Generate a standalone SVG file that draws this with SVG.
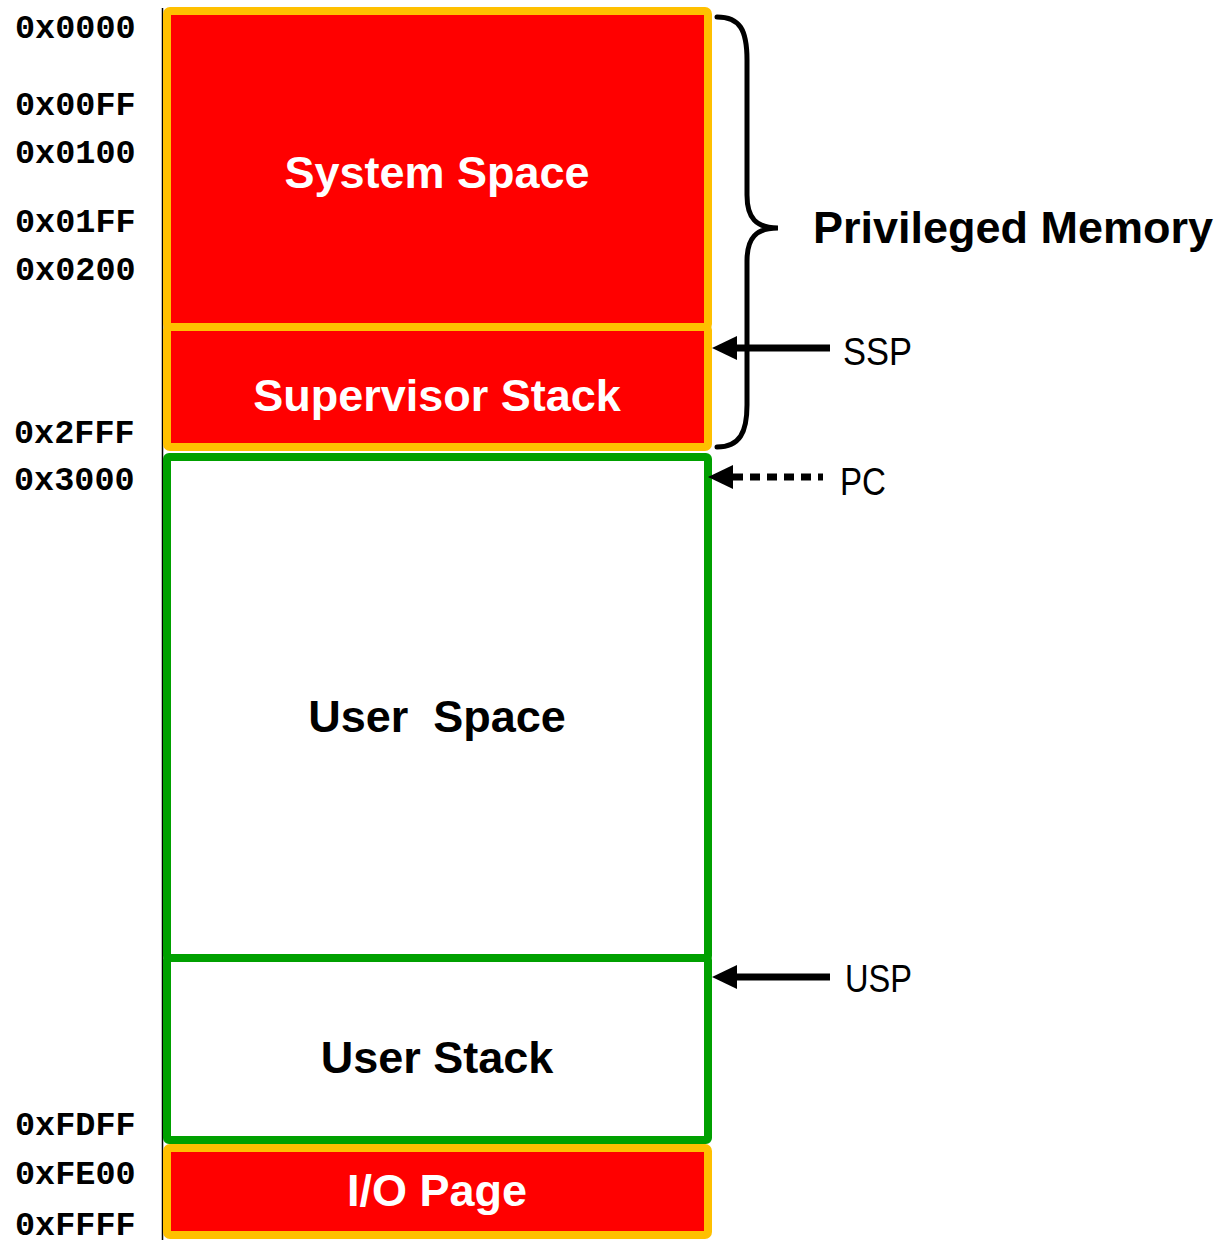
<svg xmlns="http://www.w3.org/2000/svg" width="1218" height="1240" viewBox="0 0 1218 1240">
  <style>
    .addr { font-family: "Liberation Mono", "Courier New", monospace; font-weight: bold; font-size: 33.5px; fill: #000; }
    .title { font-family: "Liberation Sans", Arial, sans-serif; font-weight: bold; font-size: 45px; text-anchor: middle; }
    .ptr { font-family: "Liberation Sans", Arial, sans-serif; font-size: 38px; fill: #000; }
    .priv { fill: #ff0000; stroke: #ffc000; stroke-width: 8; }
    .user { fill: #ffffff; stroke: #00a000; stroke-width: 8; }
    .arrow { stroke: #000; stroke-width: 7; fill: none; }
    .head { fill: #000; }
  </style>

  <rect width="1218" height="1240" fill="#ffffff"/>

  <!-- thin left edge line -->
  <line x1="162.5" y1="8" x2="162.5" y2="1240" stroke="#000" stroke-width="1.5"/>

  <!-- memory regions -->
  <g id="system-space">
    <rect class="priv" x="167" y="11" width="541" height="316" rx="3"/>
    <text class="title" x="437" y="188" fill="#ffffff">System Space</text>
  </g>
  <g id="supervisor-stack">
    <rect class="priv" x="167" y="327" width="541" height="120" rx="3"/>
    <text class="title" x="437" y="411" fill="#ffffff">Supervisor Stack</text>
  </g>
  <g id="user-space">
    <rect class="user" x="167" y="457" width="541" height="501" rx="2"/>
    <text class="title" x="437" y="732" fill="#000000" xml:space="preserve">User  Space</text>
  </g>
  <g id="user-stack">
    <rect class="user" x="167" y="958" width="541" height="182" rx="2"/>
    <text class="title" x="437" y="1073" fill="#000000">User Stack</text>
  </g>
  <g id="io-page">
    <rect class="priv" x="167" y="1148" width="541" height="87" rx="3"/>
    <text class="title" x="437" y="1206" fill="#ffffff">I/O Page</text>
  </g>

  <!-- address labels -->
  <g id="addresses">
    <text class="addr" x="15" y="38">0x0000</text>
    <text class="addr" x="15" y="115">0x00FF</text>
    <text class="addr" x="15" y="163">0x0100</text>
    <text class="addr" x="15" y="232">0x01FF</text>
    <text class="addr" x="15" y="280">0x0200</text>
    <text class="addr" x="14" y="443">0x2FFF</text>
    <text class="addr" x="14" y="490">0x3000</text>
    <text class="addr" x="15" y="1135">0xFDFF</text>
    <text class="addr" x="15" y="1184">0xFE00</text>
    <text class="addr" x="15" y="1235">0xFFFF</text>
  </g>

  <!-- privileged memory brace -->
  <g id="privileged-memory">
    <path d="M717,17 C740,17 747,30 747,60 L747,195 C747,218 756,228 778,228 C756,228 747,238 747,261 L747,405 C747,432 740,447 717,447" fill="none" stroke="#000" stroke-width="5" stroke-linecap="round"/>
    <text x="813" y="243" font-family="Liberation Sans, Arial, sans-serif" font-weight="bold" font-size="45" fill="#000">Privileged Memory</text>
  </g>

  <!-- pointer connectors -->
  <g id="connectors">
    <line class="arrow" x1="736" y1="348" x2="830" y2="348"/>
    <polygon class="head" points="712,348 737,336 737,360"/>
    <line class="arrow" x1="733" y1="477" x2="823" y2="477" stroke-dasharray="10 7"/>
    <polygon class="head" points="708,477 733,465 733,489"/>
    <line class="arrow" x1="736" y1="977" x2="830" y2="977"/>
    <polygon class="head" points="712,977 737,965 737,989"/>
  </g>

  <g id="pointer-labels">
    <text class="ptr" x="843" y="365" textLength="69" lengthAdjust="spacingAndGlyphs">SSP</text>
    <text class="ptr" x="840" y="495" textLength="46" lengthAdjust="spacingAndGlyphs">PC</text>
    <text class="ptr" x="845" y="992" textLength="67" lengthAdjust="spacingAndGlyphs">USP</text>
  </g>
</svg>
